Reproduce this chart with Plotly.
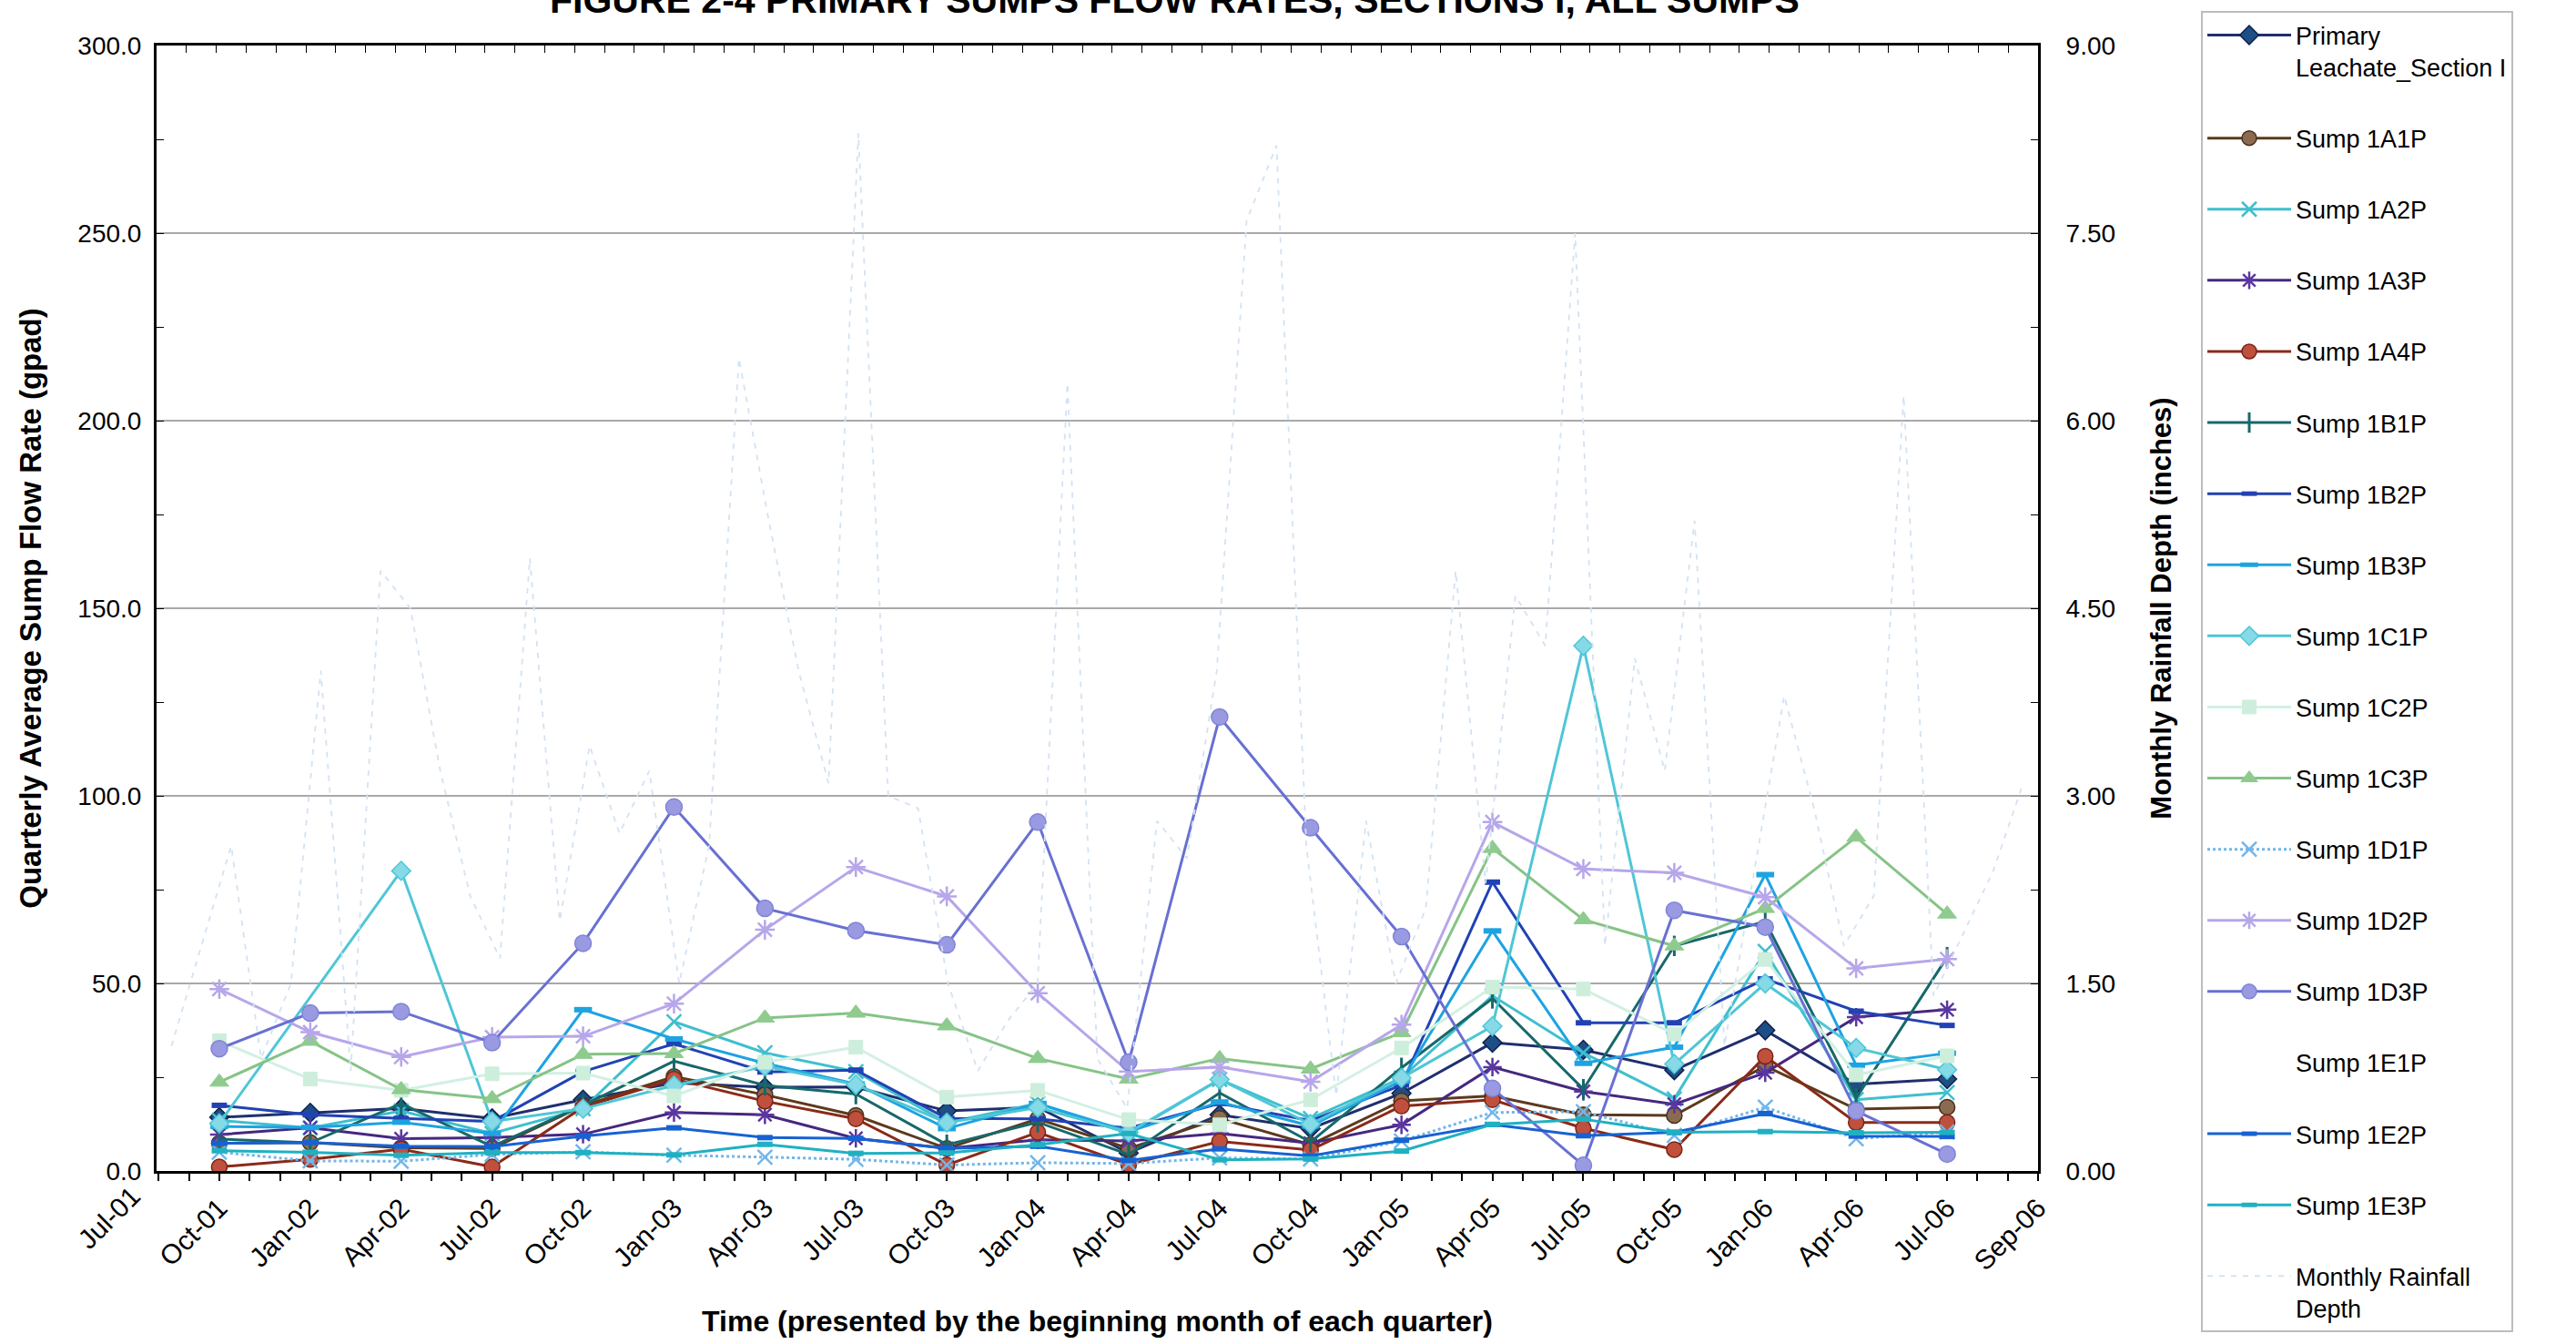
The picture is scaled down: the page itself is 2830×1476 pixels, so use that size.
import pandas as pd
import plotly.graph_objects as go

# ---------------- data ----------------
quarter_labels = ["Jul-01", "Oct-01", "Jan-02", "Apr-02", "Jul-02", "Oct-02", "Jan-03", "Apr-03",
                  "Jul-03", "Oct-03", "Jan-04", "Apr-04", "Jul-04", "Oct-04", "Jan-05", "Apr-05",
                  "Jul-05", "Oct-05", "Jan-06", "Apr-06", "Jul-06", "Sep-06"]
sample_quarters = quarter_labels[1:21]

primary_leachate = [14.3, 15.5, 16.7, 14.0, 19.0, 23.5, 22.3, 22.4, 16.0, 17.0,
                    4.8, 15.0, 11.3, 20.7, 34.2, 32.3, 26.9, 37.5, 23.1, 24.5]
sump_1a1p = [7.4, 7.6, 6.2, 6.0, 17.4, 25.2, 20.3, 14.8, 6.0, 13.9,
             6.0, 14.0, 7.0, 18.7, 20.0, 15.0, 14.8, 28.0, 16.5, 17.0]
sump_1a2p = [13.5, 11.5, 16.0, 10.0, 16.6, 39.8, 31.5, 26.5, 12.9, 18.0,
             10.0, 24.4, 14.0, 24.8, 46.7, 31.5, 19.2, 58.5, 19.0, 20.9]
sump_1a3p = [9.7, 11.5, 8.6, 8.9, 9.8, 15.6, 15.0, 8.7, 6.0, 8.3,
             8.0, 10.0, 7.4, 12.3, 27.7, 21.2, 17.8, 26.2, 41.0, 43.0]
sump_1a4p = [1.1, 3.1, 5.8, 1.1, 17.0, 24.5, 18.6, 13.9, 1.6, 10.3,
             1.7, 7.9, 5.6, 17.3, 19.0, 11.4, 5.7, 30.6, 12.9, 12.9]
sump_1b1p = [8.5, 7.5, 18.0, 6.5, 17.5, 29.3, 22.8, 20.5, 7.0, 13.0,
             4.4, 20.8, 7.7, 27.5, 46.0, 21.8, 60.0, 66.5, 19.4, 57.0]
sump_1b2p = [17.5, 15.0, 14.0, 13.2, 26.5, 33.9, 26.4, 26.9, 14.0, 13.9,
             11.4, 18.0, 13.4, 22.9, 77.0, 39.5, 39.5, 51.2, 42.6, 38.8]
sump_1b3p = [11.9, 11.6, 13.0, 10.0, 43.0, 35.2, 28.7, 23.2, 11.3, 18.0,
             10.5, 18.4, 12.0, 24.0, 64.0, 28.7, 33.0, 79.0, 28.2, 31.4]
sump_1c1p = [12.7, None, 80.0, 13.2, 16.6, 22.8, 27.9, 23.0, 12.9, 16.9,
             10.3, 24.4, 12.5, 24.8, 38.6, 140.0, 28.5, 50.0, 32.8, 27.0]
sump_1c2p = [34.7, 24.5, 21.5, 25.9, 26.1, 20.0, 29.0, 33.0, 19.7, 21.5,
             13.7, 12.3, 19.0, 32.8, 49.0, 48.5, 36.5, 56.4, 25.6, 30.7]
sump_1c3p = [23.7, 34.6, 21.7, 19.3, 31.1, 31.3, 40.8, 42.1, 38.7, 30.0,
             24.5, 30.0, 27.2, 36.9, 86.0, 67.0, 60.0, 70.0, 89.0, 68.5]
sump_1d1p = [5.0, 2.7, 2.6, 4.4, 5.1, 4.2, 3.7, 3.1, 1.6, 2.2,
             2.0, 3.5, 3.2, 8.0, 15.6, 15.8, 9.5, 17.0, 8.6, 10.4]
sump_1d2p = [48.5, 37.0, 30.4, 35.7, 35.9, 44.6, 64.3, 81.0, 73.2, 47.4,
             26.5, 27.7, 23.8, 39.0, 93.0, 80.5, 79.5, 73.0, 54.0, 56.5]
sump_1d3p = [32.6, 42.1, 42.5, 34.2, 60.7, 97.0, 70.0, 64.1, 60.3, 93.0,
             29.0, 121.0, 91.5, 62.5, 22.0, 1.5, 69.5, 65.0, 16.0, 4.5]
sump_1e1p = [None] * 20
sump_1e2p = [7.4, 7.6, 6.6, 6.5, 9.3, 11.5, 8.9, 8.7, 6.0, 6.6,
             2.8, 5.9, 4.0, 8.2, 12.4, 9.4, 10.3, 15.3, 9.3, 9.2]
sump_1e3p = [5.4, 5.0, 4.2, 4.9, 4.9, 4.3, 7.1, 4.7, 4.8, 7.0,
             10.0, 3.0, 3.2, 5.3, 12.4, 13.8, 10.3, 10.5, 10.2, 10.3]

rain_months = list(pd.date_range("2001-07-01", "2006-09-01", freq="MS").strftime("%b-%y"))
monthly_rainfall = [1.0, 1.8, 2.6, 0.9, 1.5, 4.0, 0.8, 4.8, 4.5, 3.2,
                    2.2, 1.7, 4.9, 2.0, 3.4, 2.7, 3.2, 1.5, 2.6, 6.5,
                    5.2, 4.0, 3.1, 8.3, 3.0, 2.9, 1.5, 0.8, 1.2, 1.5,
                    6.3, 0.9, 0.5, 2.8, 2.5, 4.0, 7.6, 8.2, 2.6, 0.6,
                    2.8, 1.5, 2.1, 4.8, 2.3, 4.6, 4.2, 7.5, 1.8, 4.1,
                    3.2, 5.2, 1.0, 2.4, 3.8, 2.9, 1.8, 2.2, 6.2, 1.4,
                    1.9, 2.4, 3.1]

# ---------------- styling ----------------
BASE_FONT = "Liberation Sans, Arial, sans-serif"
NARROW_FONT = "Liberation Sans Narrow, Arial Narrow, Liberation Sans, sans-serif"

x_pos = [quarter_labels.index(q) for q in sample_quarters]
x_range = [0.31, 21.0]

series = [
    ("Primary<br>Leachate_Section I", primary_leachate, "#1F2F6E", "solid",
     dict(symbol="diamond", size=16, color="#1E4E86", line=dict(color="#10204A", width=1.5))),
    ("Sump 1A1P", sump_1a1p, "#5C3A1E", "solid",
     dict(symbol="circle", size=17, color="#8A6B52", line=dict(color="#4A2E18", width=1.5))),
    ("Sump 1A2P", sump_1a2p, "#3FBFCF", "solid",
     dict(symbol="x-thin-open", size=16, color="#3FBFCF", line=dict(color="#3FBFCF", width=2.5))),
    ("Sump 1A3P", sump_1a3p, "#45287F", "solid",
     dict(symbol="asterisk-open", size=17, color="#5A36A0", line=dict(color="#5A36A0", width=2.5))),
    ("Sump 1A4P", sump_1a4p, "#8A2A18", "solid",
     dict(symbol="circle", size=17, color="#C0503E", line=dict(color="#7A2414", width=1.5))),
    ("Sump 1B1P", sump_1b1p, "#17686A", "solid",
     dict(symbol="line-ns-open", size=16, color="#17686A", line=dict(color="#17686A", width=3))),
    ("Sump 1B2P", sump_1b2p, "#2142B4", "solid",
     dict(symbol="line-ew-open", size=12, color="#2142B4", line=dict(color="#2142B4", width=6))),
    ("Sump 1B3P", sump_1b3p, "#1EA3E2", "solid",
     dict(symbol="line-ew-open", size=14, color="#1EA3E2", line=dict(color="#1EA3E2", width=6))),
    ("Sump 1C1P", sump_1c1p, "#4FC6D6", "solid",
     dict(symbol="diamond", size=16, color="#86D9E6", line=dict(color="#4FC6D6", width=1.5))),
    ("Sump 1C2P", sump_1c2p, "#D3F0E2", "solid",
     dict(symbol="square", size=15, color="#CDEEDB", line=dict(color="#CDEEDB", width=1))),
    ("Sump 1C3P", sump_1c3p, "#86C386", "solid",
     dict(symbol="triangle-up", size=18, color="#8FCB8F", line=dict(color="#8FCB8F", width=1))),
    ("Sump 1D1P", sump_1d1p, "#72B6EA", "dot",
     dict(symbol="x-thin-open", size=16, color="#72B6EA", line=dict(color="#72B6EA", width=2.5))),
    ("Sump 1D2P", sump_1d2p, "#B7A6EA", "solid",
     dict(symbol="asterisk-open", size=18, color="#B7A6EA", line=dict(color="#B7A6EA", width=2.5))),
    ("Sump 1D3P", sump_1d3p, "#6870D2", "solid",
     dict(symbol="circle", size=18, color="#9A9AE2", line=dict(color="#7F84D6", width=1.5))),
    ("Sump 1E1P", sump_1e1p, "#FFFFFF", "solid",
     dict(symbol="circle", size=12, color="#FFFFFF", line=dict(color="#FFFFFF", width=1))),
    ("Sump 1E2P", sump_1e2p, "#1762D2", "solid",
     dict(symbol="line-ew-open", size=12, color="#1762D2", line=dict(color="#1762D2", width=6))),
    ("Sump 1E3P", sump_1e3p, "#1FB1C2", "solid",
     dict(symbol="line-ew-open", size=12, color="#1FB1C2", line=dict(color="#1FB1C2", width=6))),
]

fig = go.Figure()

for i, (name, values, color, dash, marker) in enumerate(series):
    fig.add_trace(go.Scatter(
        x=x_pos, y=values, name=name, mode="lines+markers",
        line=dict(color=color, width=3, dash=dash),
        marker=marker, connectgaps=True,
        legendgroup=f"g{i}",
    ))

fig.add_trace(go.Scatter(
    x=rain_months, y=monthly_rainfall, name="Monthly Rainfall<br>Depth",
    mode="lines", line=dict(color="#D3E2F3", width=1.8, dash="6px,7px"),
    xaxis="x2", yaxis="y2", legendgroup="rain",
))

# The first quarter label sits just left of the plotting area
jul01_paper_x = (quarter_labels.index("Jul-01") - x_range[0]) / (x_range[1] - x_range[0])
fig.add_annotation(
    x=jul01_paper_x, y=0, xref="paper", yref="paper",
    text=quarter_labels[0], textangle=-45, showarrow=False,
    xanchor="right", yanchor="top", yshift=-8, xshift=22,
    font=dict(family=BASE_FONT, size=30, color="#000000"),
)

fig.update_layout(
    width=2830, height=1476,
    margin=dict(l=172, r=591, t=40, b=187),
    paper_bgcolor="white", plot_bgcolor="white",
    title=dict(
        text="<b>FIGURE 2-4 PRIMARY SUMPS FLOW RATES, SECTIONS I, ALL SUMPS</b>",
        x=0.456, xanchor="center", y=1.0, yanchor="middle",
        font=dict(family=NARROW_FONT, size=41, color="#000000"),
    ),
    xaxis=dict(
        range=x_range, tickmode="array",
        tickvals=list(range(1, len(quarter_labels))),
        ticktext=quarter_labels[1:], tickangle=-45,
        tickfont=dict(family=BASE_FONT, size=30, color="#000000"),
        ticks="outside", ticklen=8, tickwidth=1.5, tickcolor="#000000",
        minor=dict(dtick=1 / 3, tick0=0, ticks="outside", ticklen=8, tickcolor="#000000"),
        showline=True, linecolor="#000000", linewidth=3, mirror=True,
        showgrid=False, zeroline=False,
        title=dict(text="<b>Time (presented by the beginning month of each quarter)</b>",
                   font=dict(family=NARROW_FONT, size=32, color="#000000"), standoff=40),
    ),
    yaxis=dict(
        range=[0, 300], dtick=50, tickformat=".1f",
        tickfont=dict(family=BASE_FONT, size=28, color="#000000"),
        ticks="inside", ticklen=8, tickcolor="#000000",
        minor=dict(dtick=25, ticks="inside", ticklen=8, tickcolor="#000000"),
        ticklabelstandoff=8,
        showline=True, linecolor="#000000", linewidth=3,
        showgrid=True, gridcolor="#A8A8A8", gridwidth=2, zeroline=False,
        title=dict(text="<b>Quarterly Average Sump Flow Rate (gpad)</b>",
                   font=dict(family=NARROW_FONT, size=33, color="#000000"), standoff=30),
    ),
    xaxis2=dict(
        type="category", overlaying="x", side="top", anchor="y2",
        range=[-0.5, len(rain_months) - 0.5], tickson="boundaries",
        ticks="inside", ticklen=8, tickcolor="#000000", showticklabels=False,
        showgrid=False, zeroline=False, showline=False,
    ),
    yaxis2=dict(
        overlaying="y", side="right", anchor="x2",
        range=[0, 9], dtick=1.5, tickformat=".2f",
        tickfont=dict(family=BASE_FONT, size=28, color="#000000"),
        ticks="inside", ticklen=8, tickcolor="#000000",
        minor=dict(dtick=0.75, ticks="inside", ticklen=8, tickcolor="#000000"),
        ticklabelstandoff=22,
        showline=True, linecolor="#000000", linewidth=3,
        showgrid=False, zeroline=False,
        title=dict(text="<b>Monthly Rainfall Depth (inches)</b>",
                   font=dict(family=NARROW_FONT, size=31, color="#000000"), standoff=41),
    ),
    legend=dict(
        x=(2418 - 172) / 2067, xanchor="left",
        y=1 + 38 / 1249, yanchor="top",
        bgcolor="white", bordercolor="#BDBDBD", borderwidth=2,
        font=dict(family=BASE_FONT, size=27, color="#000000"),
        tracegroupgap=40, valign="top", itemwidth=92, maxheight=1470,
    ),
    showlegend=True,
)

fig.write_html("out.html")
